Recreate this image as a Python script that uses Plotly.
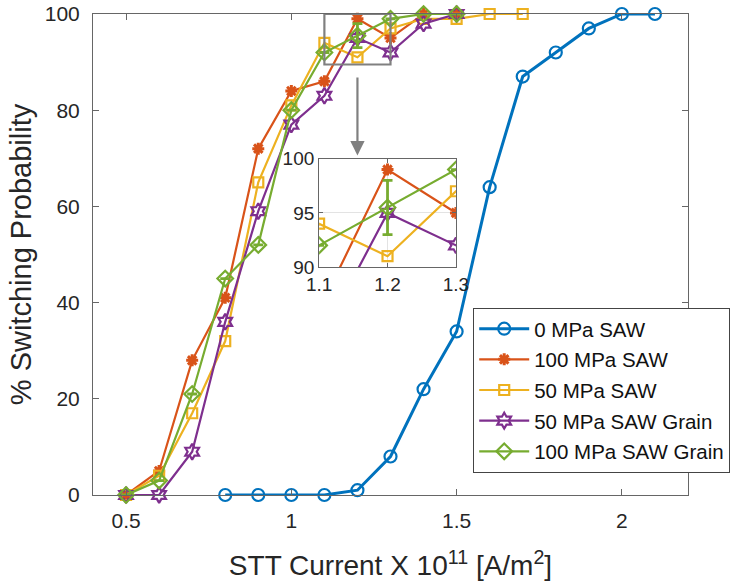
import plotly.graph_objects as go

# ---- data ----
x_blue = [0.8, 0.9, 1.0, 1.1, 1.2, 1.3, 1.4, 1.5, 1.6, 1.7, 1.8, 1.9, 2.0, 2.1]
y_blue = [0, 0, 0, 0, 1, 8, 22, 34, 64, 87, 92, 97, 100, 100]

x_orange = [0.5, 0.6, 0.7, 0.8, 0.9, 1.0, 1.1, 1.2, 1.3, 1.4, 1.5]
y_orange = [0, 5, 28, 41, 72, 84, 86, 99, 95, 100, 100]

x_yellow = [0.5, 0.6, 0.7, 0.8, 0.9, 1.0, 1.1, 1.2, 1.3, 1.4, 1.5, 1.6, 1.7]
y_yellow = [0, 4, 17, 32, 65, 81, 94, 91, 97, 99, 99, 100, 100]

x_purple = [0.5, 0.6, 0.7, 0.8, 0.9, 1.0, 1.1, 1.2, 1.3, 1.4, 1.5]
y_purple = [0, 0, 9, 36, 59, 77, 83, 95, 92, 98, 100]

x_green = [0.5, 0.6, 0.7, 0.8, 0.9, 1.0, 1.1, 1.2, 1.3, 1.4, 1.5]
y_green = [0, 3, 21, 45, 52, 80, 92, 95.5, 99, 100, 100]
err_green_plus = [0, 0, 0, 0, 0, 0, 0, 2.5, 0, 0, 0]
err_green_minus = [0, 0, 0, 0, 0, 0, 0, 2.5, 0, 0, 0]

x_ticks_main = [0.5, 1, 1.5, 2]
x_ticktext_main = ["0.5", "1", "1.5", "2"]
y_ticks_main = [0, 20, 40, 60, 80, 100]
x_ticks_inset = [1.1, 1.2, 1.3]
x_ticktext_inset = ["1.1", "1.2", "1.3"]
y_ticks_inset = [90, 95, 100]

names = ["0 MPa SAW", "100 MPa SAW", "50 MPa SAW", "50 MPa SAW Grain", "100 MPa SAW Grain"]
colors = ["#0072BD", "#D95319", "#EDB120", "#7E2F8E", "#77AC30"]

series = [
    (x_blue, y_blue, "circle-open", 12, 3.0, None),
    (x_orange, y_orange, "asterisk-open", 10, 2.2, None),
    (x_yellow, y_yellow, "square-open", 10, 2.2, None),
    (x_purple, y_purple, "hexagram-open", 12, 2.2, None),
    (x_green, y_green, "diamond-open", 12, 2.2, (err_green_plus, err_green_minus)),
]

FONT = "Liberation Sans, Arial, sans-serif"
TXT = "#262626"
AX = "#666666"

fig = go.Figure()

for axis_suffix, show in [("", True), ("2", False)]:
    for i, ((xs, ys, sym, sz, lw, err), name, col) in enumerate(zip(series, names, colors)):
        kw = {}
        if err is not None:
            kw["error_y"] = dict(type="data", symmetric=False, array=err[0], arrayminus=err[1],
                                 color=col, thickness=2.8, width=5)
        fig.add_trace(go.Scatter(
            x=xs, y=ys, name=name, mode="lines+markers", legendgroup="g%d" % i,
            line=dict(color=col, width=lw),
            marker=dict(symbol=sym, size=sz, color=col,
                        line=dict(color=col, width=3 if sym == "asterisk-open" else 2.2)),
            showlegend=show, xaxis="x" + axis_suffix, yaxis="y" + axis_suffix,
            cliponaxis=(axis_suffix == "2"), **kw))

common = dict(ticks="inside", tickcolor=AX, showline=True, linecolor=AX, linewidth=1,
              mirror="ticks", zeroline=False, automargin=False)

fig.update_layout(
    width=737, height=583,
    margin=dict(l=93, r=49, t=14, b=88, autoexpand=False),
    paper_bgcolor="white", plot_bgcolor="white",
    font=dict(family=FONT, color=TXT, size=21),
    xaxis=dict(range=[0.4, 2.2], tickvals=x_ticks_main, ticktext=x_ticktext_main,
               ticklen=6, showgrid=False, ticklabelstandoff=7,
               title=dict(text="STT Current X 10<sup>11</sup> [A/m<sup>2</sup>]", font=dict(size=28), standoff=24),
               domain=[0, 1], **common),
    yaxis=dict(range=[0, 100], tickvals=y_ticks_main,
               ticklen=6, showgrid=False, ticklabelstandoff=8, ticklabeloverflow="allow",
               title=dict(text="% Switching Probability", font=dict(size=29), standoff=4),
               domain=[0, 1], **common),
    xaxis2=dict(range=[1.1, 1.3], tickvals=x_ticks_inset, ticktext=x_ticktext_inset,
                domain=[0.380, 0.610], anchor="y2", ticklen=4,
                showgrid=True, gridcolor="#E3E3E3", tickfont=dict(size=19), **common),
    yaxis2=dict(range=[90, 100], tickvals=y_ticks_inset,
                domain=[0.474, 0.699], anchor="x2", ticklen=4,
                showgrid=True, gridcolor="#E3E3E3", tickfont=dict(size=19), **common),
    legend=dict(x=0.639, y=0.389, xanchor="left", yanchor="top",
                bgcolor="white", bordercolor="#444444", borderwidth=1,
                font=dict(size=20.5, color="#111111"), traceorder="grouped",
                tracegroupgap=1, itemwidth=50),
    shapes=[dict(type="rect", xref="x", yref="y", x0=1.1, x1=1.3, y0=89.5, y1=100,
                 line=dict(color="#808080", width=2.2))],
    annotations=[dict(xref="x", yref="y", axref="x", ayref="y", x=1.2, y=70.6, ax=1.2, ay=89.5,
                      showarrow=True, arrowhead=2, arrowsize=1.3, arrowwidth=2.2, arrowcolor="#808080",
                      text=" ")],
)

fig.write_html("out.html", config={"displayModeBar": False},
               post_script="document.body.style.margin='0px';")
